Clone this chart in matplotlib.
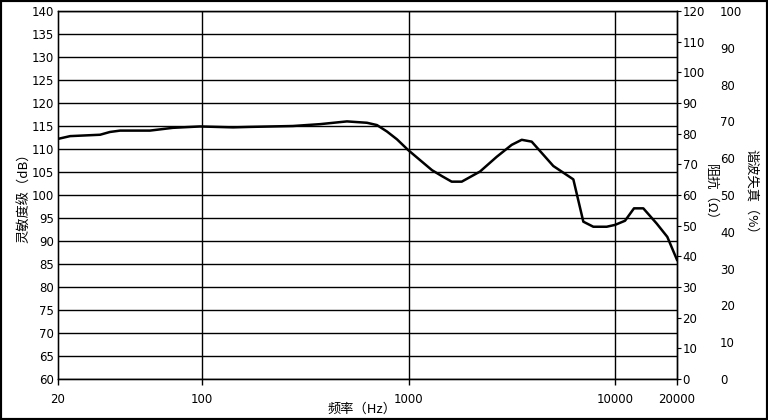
import numpy as np
import matplotlib
matplotlib.use('Agg')
import matplotlib.pyplot as plt
from matplotlib.patches import Rectangle

# frequency response
freq = [20, 22.9, 32, 35.7, 40, 55.8, 72, 97.5, 141, 170, 275, 372, 503, 629,
        703, 786, 879, 994, 1136, 1299, 1452, 1618, 1810, 2220, 2674, 3161,
        3536, 3952, 5031, 6290, 7032, 7861, 9126, 10012, 11196, 12376, 13732,
        15940, 17948, 20000]
spl = [112.2, 112.8, 113.1, 113.7, 114.0, 114.0, 114.6, 114.9, 114.7, 114.8,
       115.0, 115.4, 116.0, 115.7, 115.2, 113.8, 112.1, 109.8, 107.6, 105.4,
       104.1, 102.9, 102.9, 105.1, 108.3, 110.9, 112.0, 111.6, 106.3, 103.4,
       94.2, 93.1, 93.1, 93.5, 94.4, 97.1, 97.1, 93.8, 90.9, 85.9]

xticks = [20, 100, 1000, 10000, 20000]
xgrid = [100, 1000, 10000]
spl_ticks = list(range(60, 141, 5))
imp_ticks = list(range(0, 121, 10))
thd_ticks = list(range(0, 101, 10))

cjk = ['Noto Sans CJK SC', 'DejaVu Sans']

fig = plt.figure(figsize=(7.68, 4.2), dpi=100)
fig.patch.set_facecolor('white')
ax = fig.add_axes([58/768, 1-379/420, 619/768, 368/420])

ax.set_xscale('log')
ax.set_xlim(20, 20000)
ax.set_ylim(60, 140)
for y in spl_ticks:
    ax.axhline(y, color='black', lw=1.0, zorder=1)
for x in xgrid:
    ax.axvline(x, color='black', lw=1.0, zorder=1)

ax.plot(freq, spl, color='black', lw=1.8, zorder=3)

ax.set_xticks(xticks)
ax.set_xticklabels([str(t) for t in xticks])
ax.xaxis.set_minor_locator(matplotlib.ticker.NullLocator())
ax.tick_params(axis='x', direction='out', length=4, width=1, pad=6, labelsize=8.5)
ax.set_yticks(spl_ticks)
ax.tick_params(axis='y', length=0, pad=3, labelsize=8.5)
for s in ax.spines.values():
    s.set_linewidth(1.0)

# impedance axis
ax2 = ax.twinx()
ax2.set_ylim(0, 120)
ax2.set_yticks(imp_ticks)
ax2.tick_params(axis='y', direction='out', length=3, pad=1, labelsize=8.5)
ax2.spines['right'].set_linewidth(1.0)

# distortion axis
ax3 = ax.twinx()
ax3.set_ylim(0, 100)
ax3.set_yticks(thd_ticks)
ax3.spines['right'].set_position(('axes', 1.065))
ax3.spines['right'].set_visible(False)
ax3.tick_params(axis='y', length=0, pad=2, labelsize=8.5)

fig.text(25/768, 1-195/420, '灵敏度级（dB）', rotation=90, ha='center', va='center',
         fontsize=9.5, family=cjk)
fig.text(711/768, 1-195/420, '阻抗（Ω）', rotation=-90, ha='center', va='center',
         fontsize=9.5, family=cjk)
fig.text(751/768, 1-195/420, '谐波失真（%）', rotation=-90, ha='center', va='center',
         fontsize=9.5, family=cjk)
fig.text(362/768, 1-409/420, '频率（Hz）', ha='center', va='center',
         fontsize=9.5, family=cjk)

fig.patches.append(Rectangle((0, 0), 1, 1, transform=fig.transFigure,
                             fill=False, edgecolor='black', lw=3))

fig.savefig('out.png', dpi=100)
